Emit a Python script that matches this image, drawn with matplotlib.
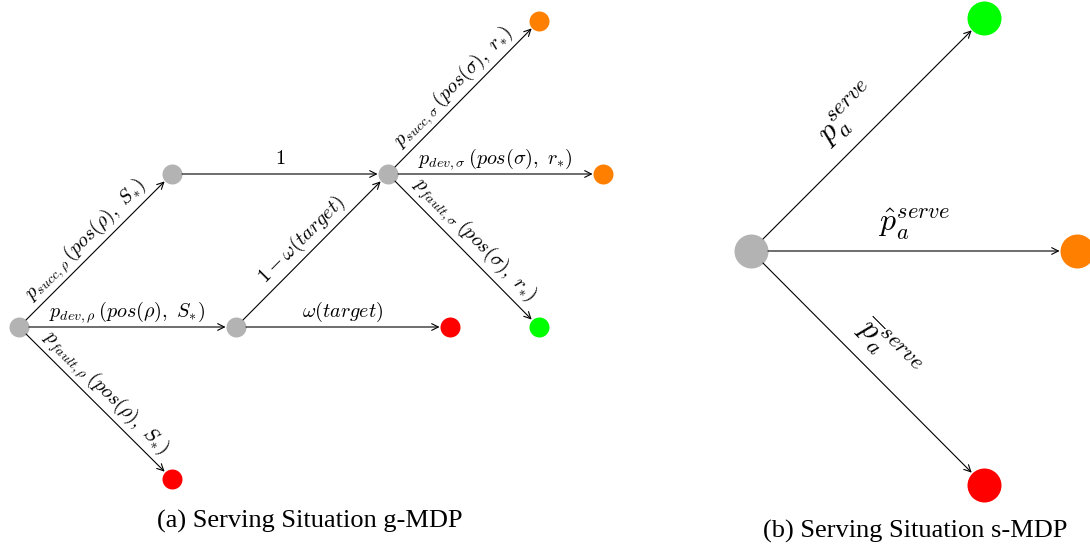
import math
import matplotlib
matplotlib.use("Agg")
import matplotlib.pyplot as plt

plt.rcParams['mathtext.fontset'] = 'cm'

GRAY = '#b3b3b3'
ORANGE = '#ff8000'
GREEN = '#00ff00'
RED = '#ff0000'

# node name -> (x, y, colour) in pixel coords of the figure
g_nodes = {
    'A': (19, 327, GRAY), 'B': (172, 174, GRAY), 'C': (236, 327, GRAY),
    'D': (388, 174, GRAY), 'E': (539, 21, ORANGE), 'F': (603, 174, ORANGE),
    'G': (539, 327, GREEN), 'H': (450, 327, RED), 'I': (172, 479, RED),
}
s_nodes = {
    'J': (751, 251, GRAY), 'K': (984, 18, GREEN),
    'L': (1077, 251, ORANGE), 'M': (984, 485, RED),
}

# (from, to, label)
g_edges = [
    ('A', 'B', r'$p_{succ,\rho}\,(pos(\rho),\ S_{*})$'),
    ('A', 'C', r'$p_{dev,\rho}\,(pos(\rho),\ S_{*})$'),
    ('A', 'I', r'$p_{fault,\rho}\,(pos(\rho),\ S_{*})$'),
    ('B', 'D', r'$1$'),
    ('C', 'D', r'$1-\omega(target)$'),
    ('C', 'H', r'$\omega(target)$'),
    ('D', 'E', r'$p_{succ,\sigma}\,(pos(\sigma),\ r_{*})$'),
    ('D', 'F', r'$p_{dev,\sigma}\,(pos(\sigma),\ r_{*})$'),
    ('D', 'G', r'$p_{fault,\sigma}\,(pos(\sigma),\ r_{*})$'),
]
s_edges = [
    ('J', 'K', r'$p_a^{serve}$'),
    ('J', 'L', r'$\hat{p}_a^{serve}$'),
    ('J', 'M', r'$\overline{p}_a^{serve}$'),
]

captions = ['(a) Serving Situation g-MDP', '(b) Serving Situation s-MDP']


def draw_graph(ax, nodes, edges, r_px, fs, off):
    r_pt = r_px * 0.72
    for x, y, c in nodes.values():
        ax.scatter([x], [y], s=(2 * r_pt) ** 2, color=c, zorder=3, linewidths=0)
    for a, b, lab in edges:
        x0, y0, _ = nodes[a]
        x1, y1, _ = nodes[b]
        ax.annotate('', xy=(x1, y1), xytext=(x0, y0),
                    arrowprops=dict(arrowstyle='->', lw=0.8, color='black',
                                    shrinkA=r_pt, shrinkB=r_pt + 0.3,
                                    mutation_scale=12))
        dx, dy = x1 - x0, -(y1 - y0)
        L = math.hypot(dx, dy)
        ux, uy = dx / L, dy / L
        nx, ny = -uy, ux
        mx, my = (x0 + x1) / 2, (y0 + y1) / 2
        ang = math.degrees(math.atan2(dy, dx))
        ax.text(mx + nx * off, my - ny * off, lab, fontsize=fs,
                rotation=ang, rotation_mode='anchor',
                ha='center', va='center')


fig = plt.figure(figsize=(10.9, 5.49), dpi=100)
ax = fig.add_axes([0, 0, 1, 1])
ax.set_xlim(0, 1090)
ax.set_ylim(549, 0)
ax.axis('off')

draw_graph(ax, g_nodes, g_edges, 10, 14.5, 15)
draw_graph(ax, s_nodes, s_edges, 17, 23, 27)

ax.text(310, 521, captions[0], fontsize=19, family='Liberation Serif',
        ha='center', va='center')
ax.text(915, 531, captions[1], fontsize=19, family='Liberation Serif',
        ha='center', va='center')

fig.savefig('out.png', dpi=100)
